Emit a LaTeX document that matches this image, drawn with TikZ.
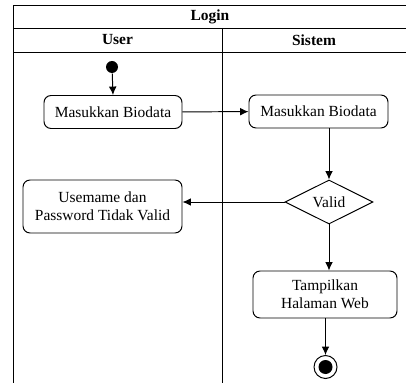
\documentclass[tikz,border=0pt]{standalone}
\usepackage{fontspec}
\setmainfont{Liberation Serif}
\usetikzlibrary{arrows.meta,shapes.geometric}

\begin{document}
\begin{tikzpicture}[x=0.25mm,y=-0.25mm,line width=0.7pt,
    font=\fontsize{11}{13}\selectfont]

      \useasboundingbox (0,0) rectangle (406,383);

      % swimlanes
      \draw (13,383) -- (13,5) -- (406,5);
      \draw (13,28)  -- (406,28);
      \draw (13,52)  -- (406,52);
      \draw (222,28) -- (222,383);

      \node (login)  at (210,16.5) {\textbf{Login}};
      \node (user)   at (117.5,40) {\textbf{User}};
      \node (sistem) at (314,40)   {\textbf{Sistem}};

      \node[circle,fill,inner sep=0,minimum size=3mm] (start) at (112,67) {};
      \node[circle,draw,inner sep=0,minimum size=5.75mm] (end) at (325.5,367) {};
      \node[circle,fill,inner sep=0,minimum size=3.5mm] (endb) at (325.5,367) {};

      \begin{scope}[every node/.style={draw,rounded corners=5pt,align=center}]
        \node[minimum width=34.5mm,minimum height=8.25mm] (b1) at (113,112)   {Masukkan Biodata};
        \node[minimum width=34.75mm,minimum height=8.25mm] (b2) at (318.5,111.5) {Masukkan Biodata};
        \node[minimum width=39.75mm,minimum height=13.25mm] (b3) at (102.5,206.5) {Usemame dan\\Password Tidak Valid};
        \node[minimum width=36mm,minimum height=11.75mm] (b4) at (325,294.5) {Tampilkan\\Halaman Web};
      \end{scope}

      \node[diamond,draw,inner sep=0,minimum width=22mm,minimum height=11mm] (valid) at (329,202) {Valid};

      \begin{scope}[every edge/.style={draw,-{Latex[length=6pt,width=5.5pt]}}]
        \path (start) edge (b1.north);
        \path (b1) edge (b2);
        \path (b2.south -| valid.north) edge (valid.north);
        \path (valid.west) edge (valid.west -| b3.east);
        \path (valid.south) edge (valid.south |- b4.north);
        \path (b4.south -| end.north) edge (end.north);
      \end{scope}

    \end{tikzpicture}
\end{document}
